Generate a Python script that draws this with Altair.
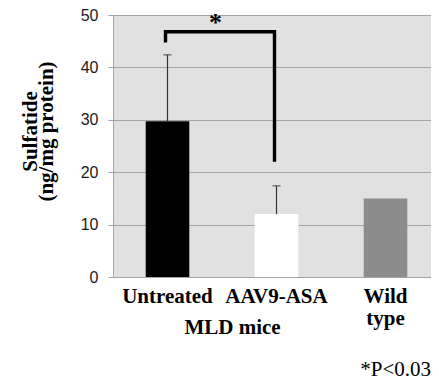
import altair as alt
import pandas as pd

groups = ["Untreated", "AAV9-ASA", "Wild type"]
means = [29.7, 12.0, 15.0]
err_groups = ["Untreated", "AAV9-ASA"]
err_means = [29.7, 12.0]
err_upper = [42.4, 17.4]
colors = ["#000000", "#ffffff", "#8c8c8c"]
bracket_x = ["Untreated", "Untreated", "AAV9-ASA", "AAV9-ASA"]
bracket_y = [45.1, 46.8, 46.8, 22.3]
y_ticks = [0, 10, 20, 30, 40, 50]

bars_df = pd.DataFrame({"group": groups, "val": means, "color": colors})
err_df = pd.DataFrame({"group": err_groups, "val": err_means, "upper": err_upper})
br_df = pd.DataFrame({"group": bracket_x, "val": bracket_y, "o": list(range(len(bracket_x)))})
star_df = pd.DataFrame({"group": ["Untreated"], "val": [46.8], "t": ["*"]})
note_df = pd.DataFrame({"note": ["*P<0.03"]})

grid_c = "#a4a4a4"
x_enc = alt.X(
    "group:N",
    scale=alt.Scale(domain=groups, range=[0, 327], paddingInner=0.6, paddingOuter=0.3),
    axis=alt.Axis(
        title="MLD mice", labelAngle=0, ticks=False, domain=True, domainColor=grid_c,
        labelFont="Liberation Serif", labelFontWeight="bold", labelFontSize=21,
        labelColor="#000000", labelPadding=8, labelLineHeight=22,
        labelExpr="split(datum.label, ' ')",
        titleFont="Liberation Serif", titleFontWeight="bold", titleFontSize=21,
        titleColor="#000000", titleX=119, titleY=56, titleBaseline="alphabetic",
        titleAlign="center",
    ),
)
y_enc = alt.Y(
    "val:Q",
    scale=alt.Scale(domain=[0, 50], nice=False),
    axis=alt.Axis(
        values=y_ticks, title=["Sulfatide", "(ng/mg protein)"],
        domainColor=grid_c, tickColor=grid_c, tickSize=5, gridColor=grid_c,
        labelFont="Liberation Sans", labelFontSize=16, labelColor="#1a1a1a",
        labelPadding=10,
        titleFont="Liberation Serif", titleFontWeight="bold", titleFontSize=21,
        titleColor="#000000", titleX=-77, titleY=116, titleBaseline="alphabetic",
        titleAlign="center", titleLineHeight=16, titleAngle=270,
    ),
)

bars = alt.Chart(bars_df).mark_bar().encode(
    x=x_enc, y=y_enc, color=alt.Color("color:N", scale=None)
)
err_rule = alt.Chart(err_df).mark_rule(color="#333333", strokeWidth=1.2).encode(
    x=x_enc, y=y_enc, y2="upper:Q"
)
err_cap = alt.Chart(err_df).mark_tick(color="#333333", size=8, thickness=1.3).encode(
    x=x_enc, y=alt.Y("upper:Q")
)
bracket = alt.Chart(br_df).mark_line(
    color="#000000", strokeWidth=3.4, strokeJoin="miter", strokeCap="square", xOffset=-2
).encode(x=x_enc, y=y_enc, order="o:Q")
star = alt.Chart(star_df).mark_text(
    font="Liberation Serif", fontWeight="bold", fontSize=26, dx=48, dy=-1,
    baseline="alphabetic", color="#000000"
).encode(x=x_enc, y=y_enc, text="t:N")
note = alt.Chart(note_df).mark_text(
    font="Liberation Serif", fontSize=21, align="right", baseline="alphabetic",
    color="#000000"
).encode(x=alt.value(318), y=alt.value(361), text="note:N")

chart = alt.layer(bars, err_rule, err_cap, bracket, star, note).properties(
    width=318, height=262,
    autosize=alt.AutoSizeParams(type="none"),
    padding={"left": 105, "top": 7, "right": 0, "bottom": 104},
).configure_view(fill="#e1e1e1", strokeWidth=0)

chart.save("out.html", embed_options={"renderer": "svg", "actions": False})
